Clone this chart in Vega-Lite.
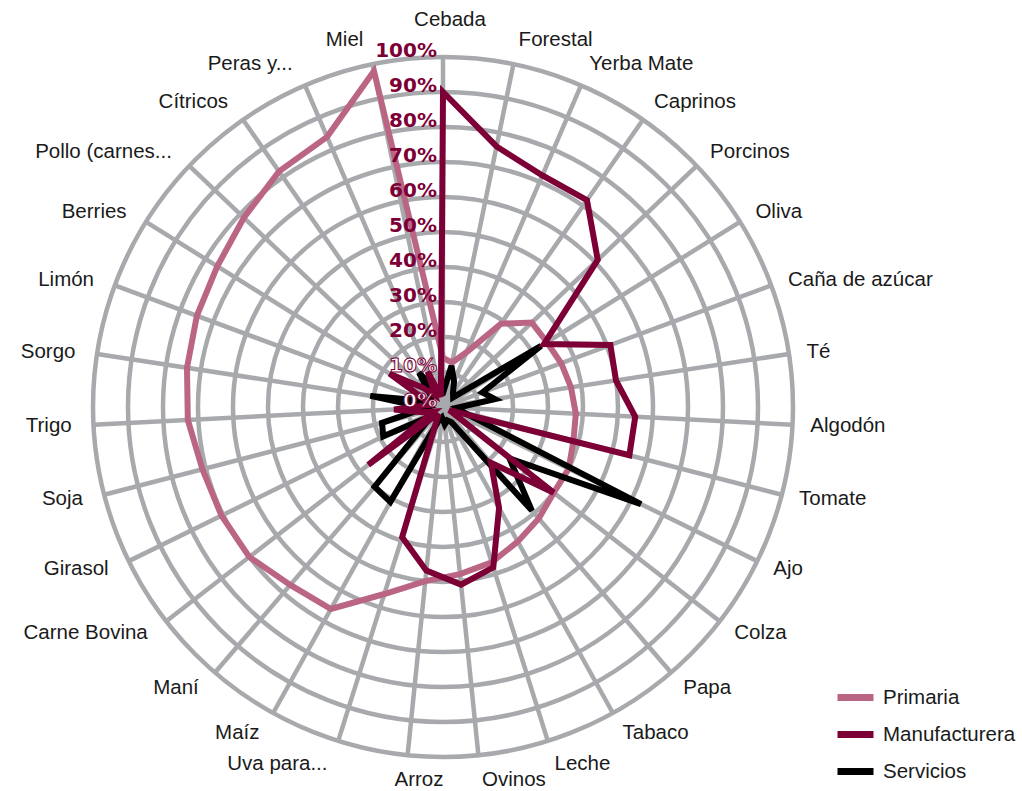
{
  "$schema": "https://vega.github.io/schema/vega-lite/v6.json",
  "width": 1022,
  "height": 791,
  "padding": 0,
  "autosize": {"type": "none"},
  "background": "white",
  "config": {
    "view": {"stroke": null},
    "legend": {
      "orient": "none",
      "legendX": 834,
      "legendY": 676,
      "padding": 0,
      "symbolType": "stroke",
      "symbolStrokeWidth": 7,
      "symbolSize": 1296,
      "labelFontSize": 20.5,
      "labelFont": "Liberation Sans",
      "labelColor": "#1a1a1a",
      "labelOffset": 6,
      "rowPadding": 1
    }
  },
  "datasets": {
    "cats": [
      {"i": 0, "cat": "Cebada", "Primaria": 0.14, "Manufacturera": 0.90, "Servicios": 0.04},
      {"i": 1, "cat": "Forestal", "Primaria": 0.13, "Manufacturera": 0.76, "Servicios": 0.12},
      {"i": 2, "cat": "Yerba Mate", "Primaria": 0.17, "Manufacturera": 0.72, "Servicios": 0.08},
      {"i": 3, "cat": "Caprinos", "Primaria": 0.29, "Manufacturera": 0.72, "Servicios": 0.05},
      {"i": 4, "cat": "Porcinos", "Primaria": 0.35, "Manufacturera": 0.61, "Servicios": 0.04},
      {"i": 5, "cat": "Oliva", "Primaria": 0.35, "Manufacturera": 0.34, "Servicios": 0.33},
      {"i": 6, "cat": "Caña de azúcar", "Primaria": 0.36, "Manufacturera": 0.51, "Servicios": 0.12},
      {"i": 7, "cat": "Té", "Primaria": 0.37, "Manufacturera": 0.50, "Servicios": 0.15},
      {"i": 8, "cat": "Algodón", "Primaria": 0.38, "Manufacturera": 0.55, "Servicios": 0.04},
      {"i": 9, "cat": "Tomate", "Primaria": 0.385, "Manufacturera": 0.55, "Servicios": 0.06},
      {"i": 10, "cat": "Ajo", "Primaria": 0.40, "Manufacturera": 0.02, "Servicios": 0.63},
      {"i": 11, "cat": "Colza", "Primaria": 0.40, "Manufacturera": 0.40, "Servicios": 0.24},
      {"i": 12, "cat": "Papa", "Primaria": 0.42, "Manufacturera": 0.21, "Servicios": 0.39},
      {"i": 13, "cat": "Tabaco", "Primaria": 0.44, "Manufacturera": 0.33, "Servicios": 0.05},
      {"i": 14, "cat": "Leche", "Primaria": 0.465, "Manufacturera": 0.48, "Servicios": 0.04},
      {"i": 15, "cat": "Ovinos", "Primaria": 0.48, "Manufacturera": 0.51, "Servicios": 0.05},
      {"i": 16, "cat": "Arroz", "Primaria": 0.50, "Manufacturera": 0.47, "Servicios": 0.03},
      {"i": 17, "cat": "Uva para...", "Primaria": 0.56, "Manufacturera": 0.39, "Servicios": 0.04},
      {"i": 18, "cat": "Maíz", "Primaria": 0.66, "Manufacturera": 0.03, "Servicios": 0.31},
      {"i": 19, "cat": "Maní", "Primaria": 0.67, "Manufacturera": 0.03, "Servicios": 0.30},
      {"i": 20, "cat": "Carne Bovina", "Primaria": 0.70, "Manufacturera": 0.27, "Servicios": 0.04},
      {"i": 21, "cat": "Girasol", "Primaria": 0.705, "Manufacturera": 0.03, "Servicios": 0.19},
      {"i": 22, "cat": "Soja", "Primaria": 0.71, "Manufacturera": 0.06, "Servicios": 0.18},
      {"i": 23, "cat": "Trigo", "Primaria": 0.73, "Manufacturera": 0.14, "Servicios": 0.05},
      {"i": 24, "cat": "Sorgo", "Primaria": 0.74, "Manufacturera": 0.04, "Servicios": 0.21},
      {"i": 25, "cat": "Limón", "Primaria": 0.75, "Manufacturera": 0.05, "Servicios": 0.05},
      {"i": 26, "cat": "Berries", "Primaria": 0.76, "Manufacturera": 0.18, "Servicios": 0.04},
      {"i": 27, "cat": "Pollo (carnes...", "Primaria": 0.785, "Manufacturera": 0.08, "Servicios": 0.05},
      {"i": 28, "cat": "Cítricos", "Primaria": 0.82, "Manufacturera": 0.04, "Servicios": 0.12},
      {"i": 29, "cat": "Peras y...", "Primaria": 0.84, "Manufacturera": 0.11, "Servicios": 0.05},
      {"i": 30, "cat": "Miel", "Primaria": 0.98, "Manufacturera": 0.03, "Servicios": 0.04}
    ],
    "rings": [
      {"v": 0.1}, {"v": 0.2}, {"v": 0.3}, {"v": 0.4}, {"v": 0.5},
      {"v": 0.6}, {"v": 0.7}, {"v": 0.8}, {"v": 0.9}, {"v": 1.0}
    ],
    "ticks": [
      {"v": 0, "t": "0%"}, {"v": 0.1, "t": "10%"}, {"v": 0.2, "t": "20%"}, {"v": 0.3, "t": "30%"},
      {"v": 0.4, "t": "40%"}, {"v": 0.5, "t": "50%"}, {"v": 0.6, "t": "60%"}, {"v": 0.7, "t": "70%"},
      {"v": 0.8, "t": "80%"}, {"v": 0.9, "t": "90%"}, {"v": 1.0, "t": "100%"}
    ]
  },
  "layer": [
    {
      "data": {"name": "rings"},
      "transform": [{"calculate": "0", "as": "z"}],
      "mark": {"type": "point", "shape": "circle", "filled": false, "stroke": "#a7a9ac", "strokeWidth": 4.5, "opacity": 1},
      "encoding": {
        "x": {"field": "z", "type": "quantitative", "scale": {"domain": [-1.265714, 1.654286], "nice": false, "zero": false}, "axis": null},
        "y": {"field": "z", "type": "quantitative", "scale": {"domain": [-1.097143, 1.162857], "nice": false, "zero": false}, "axis": null},
        "size": {"field": "v", "type": "quantitative", "scale": {"type": "pow", "exponent": 2, "domain": [0, 1], "range": [0, 490000], "zero": true}, "legend": null}
      }
    },
    {
      "data": {"name": "cats"},
      "transform": [
        {"calculate": "0", "as": "z"},
        {"calculate": "datum.i * 2 * PI / 31", "as": "a"},
        {"calculate": "sin(datum.a)", "as": "sx"},
        {"calculate": "cos(datum.a)", "as": "sy"}
      ],
      "mark": {"type": "rule", "stroke": "#a7a9ac", "strokeWidth": 4.5},
      "encoding": {
        "x": {"field": "z", "type": "quantitative", "scale": {"domain": [-1.265714, 1.654286], "nice": false, "zero": false}, "axis": null},
        "y": {"field": "z", "type": "quantitative", "scale": {"domain": [-1.097143, 1.162857], "nice": false, "zero": false}, "axis": null},
        "x2": {"field": "sx"},
        "y2": {"field": "sy"}
      }
    },
    {
      "data": {"name": "cats"},
      "transform": [
        {"fold": ["Primaria", "Manufacturera", "Servicios"], "as": ["series", "val"]},
        {"calculate": "datum.i * 2 * PI / 31", "as": "a"},
        {"calculate": "datum.val * sin(datum.a)", "as": "px"},
        {"calculate": "datum.val * cos(datum.a)", "as": "py"}
      ],
      "encoding": {
        "x": {"field": "px", "type": "quantitative", "scale": {"domain": [-1.265714, 1.654286], "nice": false, "zero": false}, "axis": null},
        "y": {"field": "py", "type": "quantitative", "scale": {"domain": [-1.097143, 1.162857], "nice": false, "zero": false}, "axis": null},
        "order": {"field": "i", "type": "quantitative"},
        "color": {
          "field": "series",
          "type": "nominal",
          "scale": {"domain": ["Primaria", "Manufacturera", "Servicios"], "range": ["#bb6585", "#7c0036", "#000000"]},
          "legend": {"title": null, "symbolType": "stroke", "symbolStrokeWidth": 7, "symbolSize": 1296}
        }
      },
      "layer": [
        {"transform": [{"filter": "datum.series === 'Primaria'"}], "mark": {"type": "line", "interpolate": "linear-closed", "strokeWidth": 6, "strokeJoin": "miter"}},
        {"transform": [{"filter": "datum.series === 'Servicios'"}], "mark": {"type": "line", "interpolate": "linear-closed", "strokeWidth": 6, "strokeJoin": "miter"}},
        {"transform": [{"filter": "datum.series === 'Manufacturera'"}], "mark": {"type": "line", "interpolate": "linear-closed", "strokeWidth": 6, "strokeJoin": "miter"}}
      ]
    },
    {
      "data": {"name": "cats"},
      "transform": [
        {"calculate": "datum.i * 2 * PI / 31", "as": "la"},
        {"calculate": "1.045 * sin(datum.la)", "as": "lx"},
        {"calculate": "1.045 * cos(datum.la) + 0.026 * pow(abs(cos(datum.la)), 3) * (cos(datum.la) > 0 ? 1 : -1)", "as": "ly"}
      ],
      "encoding": {
        "x": {"field": "lx", "type": "quantitative", "scale": {"domain": [-1.265714, 1.654286], "nice": false, "zero": false}, "axis": null},
        "y": {"field": "ly", "type": "quantitative", "scale": {"domain": [-1.097143, 1.162857], "nice": false, "zero": false}, "axis": null},
        "text": {"field": "cat", "type": "nominal"}
      },
      "layer": [
        {"transform": [{"filter": "datum.i >= 1 && datum.i <= 15"}], "mark": {"type": "text", "align": "left", "baseline": "middle", "dx": 2, "font": "Liberation Sans", "fontSize": 20.5, "fill": "#1a1a1a"}},
        {"transform": [{"filter": "datum.i >= 17"}], "mark": {"type": "text", "align": "right", "baseline": "middle", "dx": -6, "font": "Liberation Sans", "fontSize": 20.5, "fill": "#1a1a1a"}},
        {"transform": [{"filter": "datum.i === 0"}], "mark": {"type": "text", "align": "center", "baseline": "middle", "dx": 7, "dy": -12, "font": "Liberation Sans", "fontSize": 20.5, "fill": "#1a1a1a"}},
        {"transform": [{"filter": "datum.i === 16"}], "mark": {"type": "text", "align": "center", "baseline": "middle", "dx": 13, "font": "Liberation Sans", "fontSize": 20.5, "fill": "#1a1a1a"}}
      ]
    },
    {
      "data": {"name": "ticks"},
      "transform": [{"calculate": "0", "as": "z"}],
      "encoding": {
        "x": {"field": "z", "type": "quantitative", "scale": {"domain": [-1.265714, 1.654286], "nice": false, "zero": false}, "axis": null},
        "y": {"field": "v", "type": "quantitative", "scale": {"domain": [-1.097143, 1.162857], "nice": false, "zero": false}, "axis": null},
        "text": {"field": "t", "type": "nominal"}
      },
      "layer": [
        {"transform": [{"filter": "datum.v >= 0.15"}], "mark": {"type": "text", "align": "right", "baseline": "alphabetic", "dx": -6, "font": "DejaVu Sans", "fontWeight": "bold", "fontSize": 20, "fill": "#7c0036"}},
        {"transform": [{"filter": "datum.v < 0.15"}], "mark": {"type": "text", "align": "right", "baseline": "alphabetic", "dx": -6, "font": "DejaVu Sans", "fontWeight": "bold", "fontSize": 20, "fill": "#ffffff", "stroke": "#7c0036", "strokeWidth": 1}}
      ]
    }
  ]
}
